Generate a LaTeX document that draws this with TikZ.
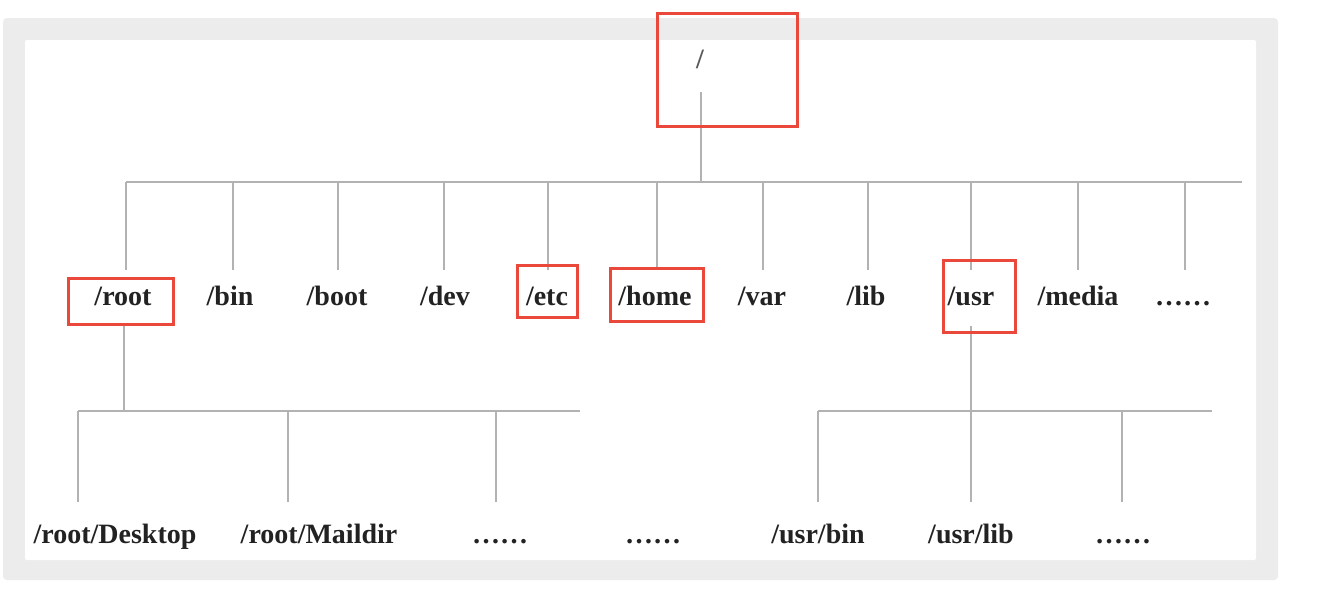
\documentclass[tikz,border=0pt]{standalone}
\usepackage{fontspec}
\setmainfont{Liberation Serif}
\definecolor{framegray}{RGB}{236,236,236}
\definecolor{linegray}{RGB}{178,178,178}
\definecolor{markred}{RGB}{234,72,58}
\definecolor{textdark}{RGB}{34,34,34}
\tikzset{
  treeline/.style={draw=linegray, line width=2pt},
  markbox/.style={draw=markred, line width=3pt},
  dirlabel/.style={anchor=base, font=\fontsize{28}{30}\selectfont\bfseries, text=textdark,
     text height=20pt, text depth=6pt, inner xsep=0pt},
  toplabel/.style={dirlabel, inner ysep=15pt},
  sublabel/.style={dirlabel, inner ysep=21pt},
}
\begin{document}
\begin{tikzpicture}[x=1pt,y=-1pt]
\useasboundingbox (0,0) rectangle (1336,608);
\fill[white] (0,0) rectangle (1336,608);
% frame
\fill[framegray, rounded corners=4pt] (3,18) rectangle (1278,580);
\fill[white, rounded corners=2pt] (25,40) rectangle (1256,560);

% root directory
\node[anchor=base, font=\fontsize{28}{30}\selectfont\bfseries, text=black!65, text height=20pt, text depth=6pt, inner ysep=18pt] (rootdir) at (700,68) {/};

% first level labels
\node[toplabel] (root)  at (123,305) {/root};
\node[toplabel] (bin)   at (230,305) {/bin};
\node[toplabel] (boot)  at (337,305) {/boot};
\node[toplabel] (dev)   at (445,305) {/dev};
\node[toplabel] (etc)   at (547,305) {/etc};
\node[toplabel] (home)  at (655,305) {/home};
\node[toplabel] (var)   at (762,305) {/var};
\node[toplabel] (lib)   at (866,305) {/lib};
\node[toplabel] (usr)   at (971,305) {/usr};
\node[toplabel] (media) at (1078,305) {/media};
\node[toplabel] (more)  at (1183,305) {……};

% second level labels
\node[sublabel] (desktop) at (115,543) {/root/Desktop};
\node[sublabel] (maildir) at (319,543) {/root/Maildir};
\node[sublabel] (rmoreA)  at (500,543) {……};
\node[sublabel] (rmoreB)  at (653,543) {……};
\node[sublabel] (usrbin)  at (818,543) {/usr/bin};
\node[sublabel] (usrlib)  at (971,543) {/usr/lib};
\node[sublabel] (umore)   at (1123,543) {……};

% junction coordinates, first level
\coordinate (jtop)   at (701,182);
\coordinate (jroot)  at (126,182);
\coordinate (jbin)   at (233,182);
\coordinate (jboot)  at (338,182);
\coordinate (jdev)   at (444,182);
\coordinate (jetc)   at (548,182);
\coordinate (jhome)  at (657,182);
\coordinate (jvar)   at (763,182);
\coordinate (jlib)   at (868,182);
\coordinate (jusr)   at (971,182);
\coordinate (jmedia) at (1078,182);
\coordinate (jmore)  at (1185,182);
\coordinate (busend) at (1242,182);

% junction coordinates, second level (root)
\coordinate (rjoin)    at (124,411);
\coordinate (jdesktop) at (78,411);
\coordinate (jmaildir) at (288,411);
\coordinate (jrmoreA)  at (496,411);
\coordinate (rbusend)  at (580,411);

% junction coordinates, second level (usr)
\coordinate (ujoin)   at (971,411);
\coordinate (jusrbin) at (818,411);
\coordinate (jusrlib) at (971,411);
\coordinate (jumore)  at (1122,411);
\coordinate (ubusend) at (1212,411);

% connectors
\draw[treeline] (rootdir.south -| jtop) -- (jtop);
\draw[treeline] (jroot) -- (busend);
\foreach \j/\n in {jroot/root, jbin/bin, jboot/boot, jdev/dev, jetc/etc, jhome/home,
                   jvar/var, jlib/lib, jusr/usr, jmedia/media, jmore/more}
  \draw[treeline] (\j) -- (\j |- \n.north);

\draw[treeline] (root.south -| rjoin) -- (rjoin);
\draw[treeline] (jdesktop) -- (rbusend);
\foreach \j/\n in {jdesktop/desktop, jmaildir/maildir, jrmoreA/rmoreA}
  \draw[treeline] (\j) -- (\j |- \n.north);

\draw[treeline] (usr.south) -- (ujoin);
\draw[treeline] (jusrbin) -- (ubusend);
\foreach \j/\n in {jusrbin/usrbin, jusrlib/usrlib, jumore/umore}
  \draw[treeline] (\j) -- (\j |- \n.north);

% highlight boxes
\draw[markbox] (657,13) rectangle (797,126);
\draw[markbox] (68,278) rectangle (173,324);
\draw[markbox] (517,265) rectangle (577,317);
\draw[markbox] (610,268) rectangle (703,321);
\draw[markbox] (943,260) rectangle (1015,332);
\end{tikzpicture}
\end{document}
